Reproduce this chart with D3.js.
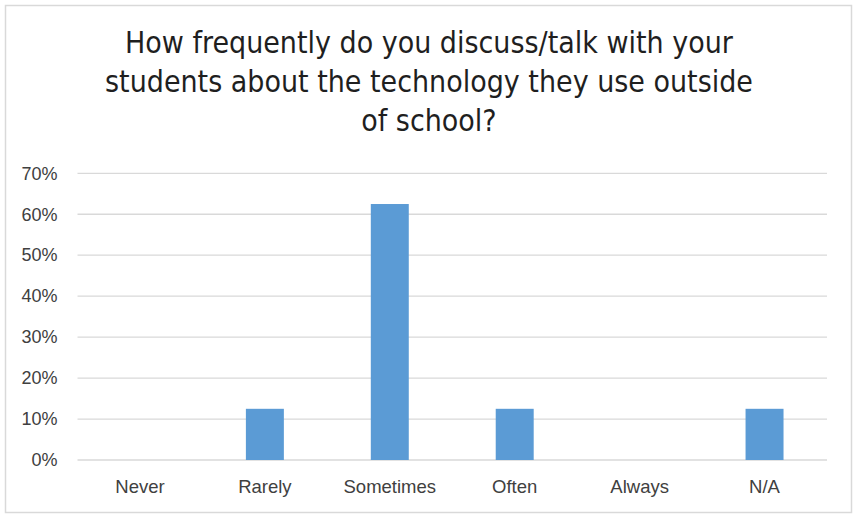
<!DOCTYPE html>
<html>
<head>
<meta charset="utf-8">
<script src="https://cdn.jsdelivr.net/npm/d3@7"></script>
<style>
  html, body { margin: 0; padding: 0; background: #fff; }
  svg { display: block; }
</style>
</head>
<body>
<svg id="chart" width="853" height="517"></svg>
<script>
const titleLines = [
  "How frequently do you discuss/talk with your",
  "students about the technology they use outside",
  "of school?"
];
const categories = ["Never", "Rarely", "Sometimes", "Often", "Always", "N/A"];
const values = [0, 0.125, 0.625, 0.125, 0, 0.125];
const yTicks = [0, 0.1, 0.2, 0.3, 0.4, 0.5, 0.6, 0.7];

const svg = d3.select("#chart");
const plot = { left: 77.5, right: 827, top: 173.3, bottom: 460 };

// outer chart border
svg.append("rect")
  .attr("x", 5.5).attr("y", 5.5)
  .attr("width", 846).attr("height", 507)
  .attr("fill", "#fff")
  .attr("stroke", "#d9d9d9").attr("stroke-width", 1.5);

// title
const titleFont = "'Liberation Sans Narrow', 'DejaVu Sans Condensed', 'Liberation Sans', sans-serif";
const tl = svg.append("g").attr("class", "title")
  .selectAll("text").data(titleLines).join("text")
  .attr("x", 429)
  .attr("y", (d, i) => 53 + i * 39)
  .attr("text-anchor", "middle")
  .attr("font-family", titleFont)
  .attr("font-size", 28)
  .attr("fill", "#1f1f1f")
  .text(d => d);
const w0 = tl.nodes()[0].getComputedTextLength();
if (w0 > 0) {
  const fs = Math.min(34, Math.max(20, 28 * 608 / w0));
  tl.attr("font-size", fs);
}

const x = d3.scaleBand()
  .domain(categories)
  .range([plot.left, plot.right])
  .paddingInner(0.696)
  .paddingOuter(0.348);

const y = d3.scaleLinear()
  .domain([0, 0.7])
  .range([plot.bottom, plot.top]);

// gridlines
svg.append("g").attr("class", "grid")
  .selectAll("line").data(yTicks).join("line")
  .attr("x1", plot.left).attr("x2", plot.right)
  .attr("y1", d => y(d)).attr("y2", d => y(d))
  .attr("stroke", "#d9d9d9").attr("stroke-width", 1.3);

// y axis
const labelFont = "'Liberation Sans', Arial, sans-serif";
const ya = svg.append("g")
  .attr("transform", `translate(${plot.left},0)`)
  .call(d3.axisLeft(y)
    .tickValues(yTicks)
    .tickFormat(d3.format(".0%"))
    .tickSize(0)
    .tickPadding(20));
ya.select(".domain").remove();
ya.selectAll("text")
  .attr("font-family", labelFont)
  .attr("font-size", 18)
  .attr("fill", "#404040");

// bars
svg.append("g").attr("class", "bars")
  .selectAll("rect").data(categories).join("rect")
  .attr("x", d => x(d))
  .attr("width", x.bandwidth())
  .attr("y", (d, i) => y(values[i]))
  .attr("height", (d, i) => y(0) - y(values[i]))
  .attr("fill", "#5b9bd5");

// x axis
const xa = svg.append("g")
  .attr("transform", `translate(0,${plot.bottom})`)
  .call(d3.axisBottom(x).tickSize(0).tickPadding(20));
xa.select(".domain").remove();
xa.selectAll("text")
  .attr("font-family", labelFont)
  .attr("font-size", 18.5)
  .attr("fill", "#404040");
</script>
</body>
</html>
